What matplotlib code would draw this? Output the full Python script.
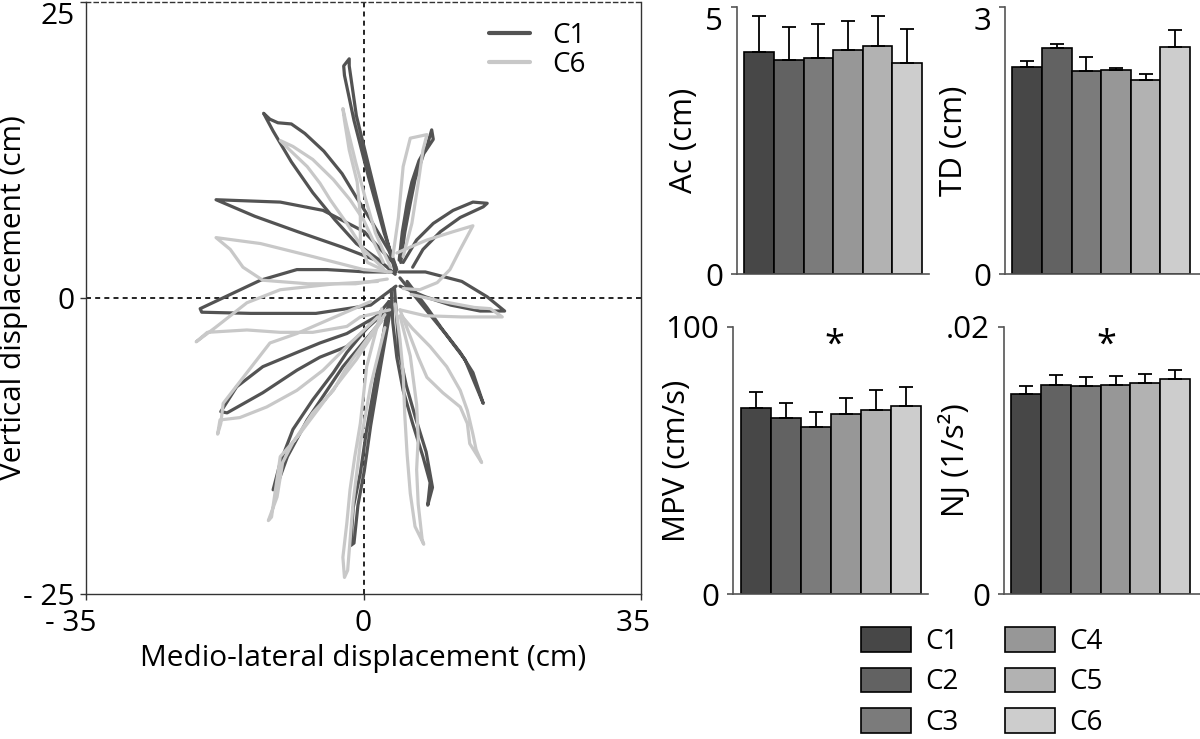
import matplotlib
matplotlib.use("Agg")
import matplotlib.pyplot as plt

plt.rcParams['font.family'] = ['Open Sans', 'DejaVu Sans']
plt.rcParams['font.size'] = 21.5

# ---------------- data ----------------
conditions = ["C1", "C2", "C3", "C4", "C5", "C6"]
bar_colors = ["#474747", "#626262", "#7b7b7b", "#979797", "#b2b2b2", "#cdcdcd"]

ac_mean = [4.16, 4.01, 4.05, 4.19, 4.27, 3.95]
ac_err = [0.67, 0.62, 0.63, 0.54, 0.57, 0.64]
td_mean = [2.33, 2.54, 2.28, 2.29, 2.18, 2.55]
td_err = [0.06, 0.04, 0.16, 0.03, 0.07, 0.19]
mpv_mean = [69.6, 66.0, 62.6, 67.5, 69.0, 70.25]
mpv_err = [6.15, 5.5, 5.65, 5.9, 7.5, 7.25]
nj_mean = [0.01495, 0.01565, 0.01555, 0.01565, 0.01578, 0.01613]
nj_err = [0.00063, 0.00073, 0.00070, 0.00070, 0.00070, 0.00062]

traj_xticks = [-35, 0, 35]
traj_xticklabels = ["- 35    ", "0", "35  "]
traj_yticks = [-25, 0, 25]
traj_yticklabels = ["- 25", "0", "25"]

# hand trajectories (cm), one closed loop per target, condition C1
c1_paths = [
    [(4.0, 2.2), (3.7, 3.0), (2.7, 5.6), (0.9, 10.5), (-0.9, 15.4), (-1.8, 19.6), (-1.8, 20.2),
     (-2.5, 19.6), (-2.4, 18.8), (-1.2, 15.0), (0.6, 10.3), (2.6, 5.5), (4.1, 2.6)],
    [(4.0, 2.0), (1.8, 3.3), (-0.9, 4.6), (-3.6, 6.6), (-6.4, 8.9), (-9.1, 11.5), (-11.4, 14.1),
     (-12.6, 15.6), (-11.8, 15.1), (-10.8, 14.8), (-9.1, 14.7), (-7.4, 13.9), (-5.0, 12.4),
     (-2.7, 10.5), (-0.9, 8.5), (0.9, 6.6), (3.2, 4.0), (4.2, 2.4)],
    [(3.7, 3.0), (0.1, 5.6), (-5.1, 7.4), (-10.5, 8.1), (-18.6, 8.3), (-13.7, 6.9), (-8.3, 5.6),
     (-2.7, 4.3), (2.3, 3.0)],
    [(4.1, 2.2), (0.4, 2.2), (-4.6, 2.4), (-8.4, 2.4), (-13.0, 1.5), (-20.6, -0.9), (-20.4, -1.2),
     (-14.2, -1.3), (-6.0, -1.3), (0.9, -0.6), (4.1, 1.0)],
    [(2.3, -1.3), (-2.1, -3.0), (-5.5, -3.8), (-8.4, -4.6), (-12.7, -5.8), (-16.0, -7.5),
     (-18.0, -9.6), (-17.2, -9.7), (-12.7, -8.0), (-8.4, -6.1), (-5.5, -5.0), (-2.1, -4.1), (3.0, -1.0)],
    [(3.2, -0.3), (-2.1, -4.6), (-3.8, -6.3), (-6.4, -8.6), (-8.9, -11.1), (-10.5, -13.9),
     (-11.4, -16.2), (-11.0, -16.0), (-9.6, -13.4), (-7.1, -10.3), (-4.6, -7.8), (-2.6, -5.8), (2.3, -1.9)],
    [(3.2, -0.3), (1.8, -5.8), (0.4, -11.1), (-0.4, -14.8), (-1.3, -17.7), (-1.6, -20.9),
     (-1.2, -20.7), (-0.7, -17.5), (0.1, -14.6), (0.9, -10.8), (2.2, -5.6), (3.6, -0.2)],
    [(3.5, 0.7), (3.7, -2.1), (4.2, -5.0), (5.0, -7.8), (6.2, -10.6), (7.5, -13.4), (8.4, -15.6),
     (8.1, -17.5), (8.7, -16.0), (7.9, -13.0), (6.6, -10.2), (5.4, -7.4), (4.5, -4.6), (3.9, 0.9)],
    [(5.5, 1.4), (8.0, -0.8), (10.0, -2.7), (12.2, -4.6), (13.8, -6.3), (15.1, -8.9), (12.8, -5.2),
     (10.2, -2.9), (7.4, -0.6), (4.6, 1.7)],
    [(4.5, 2.2), (7.8, 2.2), (12.4, 1.4), (15.6, 0.1), (17.8, -1.1), (14.7, -1.1), (11.0, -0.6),
     (7.8, 0.1), (4.6, 1.0)],
    [(5.0, 3.0), (6.7, 4.9), (8.8, 6.3), (11.3, 7.4), (13.8, 8.1), (15.6, 8.0), (15.1, 7.7),
     (12.2, 6.8), (9.7, 5.6), (7.5, 4.1), (6.2, 2.6)],
    [(4.5, 3.2), (4.9, 5.6), (5.5, 8.0), (6.1, 9.8), (7.0, 11.6), (8.0, 12.8), (8.6, 14.2),
     (8.8, 13.4), (7.6, 12.2), (6.5, 10.0), (5.9, 8.0), (5.2, 5.5), (4.7, 3.0)],
]

# hand trajectories (cm), condition C6
c6_paths = [
    [(3.4, 2.6), (1.5, 5.5), (0.2, 8.5), (-1.0, 11.5), (-2.1, 14.5), (-2.6, 16.0), (-2.4, 15.0),
     (-1.8, 12.5), (-0.8, 9.8), (-0.4, 7.0), (-0.4, 4.5), (0.5, 3.0), (3.0, 2.2)],
    [(2.5, 3.0), (0.0, 6.6), (-1.7, 8.3), (-3.8, 10.0), (-6.4, 11.7), (-8.9, 12.8), (-10.5, 13.3),
     (-9.3, 12.5), (-7.1, 11.1), (-5.5, 9.7), (-4.2, 8.3), (-2.1, 6.3), (0.0, 4.1), (2.5, 2.5)],
    [(3.5, 2.2), (0.0, 2.4), (-6.4, 3.5), (-13.0, 4.6), (-18.6, 5.1), (-16.8, 4.1), (-15.2, 2.6),
     (-12.7, 1.5), (-7.0, 1.2), (-1.0, 1.2), (3.0, 1.6)],
    [(1.8, 1.4), (-3.6, 1.2), (-10.5, 0.7), (-14.7, -0.4), (-18.7, -2.5), (-21.1, -3.7),
     (-19.7, -2.9), (-14.7, -2.7), (-10.5, -2.9), (-6.4, -2.9), (-2.1, -2.4), (-0.4, -1.6), (3.3, -1.0)],
    [(1.8, -1.6), (-2.1, -4.1), (-5.1, -6.1), (-8.4, -7.8), (-12.2, -9.2), (-15.6, -10.1),
     (-18.1, -10.3), (-18.4, -11.5), (-18.0, -10.6), (-17.7, -8.9), (-14.7, -6.3), (-11.8, -3.8),
     (-8.4, -3.0), (-3.6, -1.6), (0.9, -0.3)],
    [(2.7, -1.4), (-2.1, -5.8), (-3.8, -7.8), (-6.4, -9.7), (-8.9, -12.2), (-10.2, -13.9),
     (-10.9, -16.8), (-12.0, -18.8), (-11.6, -18.5), (-10.5, -13.4), (-8.3, -11.7), (-4.6, -8.4),
     (-0.9, -5.2), (2.3, -1.9)],
    [(2.3, -0.9), (0.4, -5.8), (-0.4, -10.6), (-1.1, -13.4), (-1.7, -16.2), (-2.1, -19.0),
     (-2.6, -21.9), (-2.4, -23.6), (-2.0, -23.0), (-1.3, -17.2), (-0.4, -12.3), (0.9, -7.4), (2.7, -2.5)],
    [(4.0, -0.5), (4.6, -3.5), (5.0, -6.3), (5.2, -9.8), (5.5, -13.2), (5.9, -16.5), (6.5, -19.3),
     (7.6, -20.8), (7.4, -20.4), (6.9, -17.4), (6.7, -14.5), (6.9, -11.8), (6.7, -9.0), (5.9, -4.9),
     (4.6, -1.5)],
    [(4.6, -1.0), (6.9, -5.0), (8.0, -6.7), (10.0, -8.0), (12.2, -9.2), (13.1, -10.6), (13.4, -12.3),
     (14.9, -13.9), (14.2, -12.8), (13.8, -11.5), (13.1, -9.5), (12.2, -7.8), (10.5, -5.8),
     (8.4, -4.1), (6.2, -2.6), (4.8, -1.5)],
    [(4.6, -1.0), (7.8, -1.5), (12.4, -1.6), (17.5, -1.6), (16.0, -0.9), (14.0, -0.8), (10.0, -0.3),
     (6.0, 0.3)],
    [(4.2, 3.8), (5.9, 4.3), (8.0, 4.9), (11.3, 5.6), (13.8, 6.1), (12.2, 4.1), (10.9, 2.4),
     (9.3, 1.3), (7.1, 0.7), (5.0, 0.8)],
    [(3.7, 3.5), (4.4, 6.8), (5.0, 11.1), (5.9, 13.5), (8.0, 13.8), (7.5, 12.5), (6.9, 9.7),
     (6.1, 6.3), (5.0, 3.5)],
]

traj_colors = {"C1": "#535353", "C6": "#c8c8c8"}

# ---------------- figure ----------------
W, H = 1200, 739
fig = plt.figure(figsize=(W / 100, H / 100), dpi=100)


def rect(x0, y0, x1, y1):
    return [x0 / W, 1 - y1 / H, (x1 - x0) / W, (y1 - y0) / H]


# trajectory panel
ax = fig.add_axes(rect(86, 2, 641, 594))
for i, p in enumerate(c1_paths):
    xs, ys = zip(*p)
    ax.plot(xs, ys, color=traj_colors["C1"], lw=2.3, solid_joinstyle='round',
            solid_capstyle='round', label="C1" if i == 0 else None, zorder=2)
for i, p in enumerate(c6_paths):
    xs, ys = zip(*p)
    ax.plot(xs, ys, color=traj_colors["C6"], lw=2.3, solid_joinstyle='round',
            solid_capstyle='round', label="C6" if i == 0 else None, zorder=3)
ax.axhline(0, color='black', lw=1.2, ls=(0, (3, 2.5)), zorder=1)
ax.axvline(0, color='black', lw=1.2, ls=(0, (3, 2.5)), zorder=1)
ax.set_xlim(-35, 35)
ax.set_ylim(-25, 25)
ax.set_xticks(traj_xticks)
ax.set_xticklabels(traj_xticklabels)
ax.set_yticks(traj_yticks)
ax.set_yticklabels(traj_yticklabels)
ax.get_yticklabels()[-1].set_verticalalignment('top')
ax.tick_params(length=4, width=1, color='#333333', pad=4)
ax.tick_params(axis='x', pad=7)
for s in ax.spines.values():
    s.set_color('#333333')
    s.set_linewidth(1.0)
ax.spines['top'].set_linestyle((0, (3, 2.5)))
ax.set_xlabel("Medio-lateral displacement (cm)")
ax.set_ylabel("Vertical displacement (cm)")
ax.xaxis.set_label_coords(0.5, -0.085)
ax.yaxis.set_label_coords(-0.105, 0.5)
leg = ax.legend(loc='upper right', bbox_to_anchor=(0.925, 0.99), frameon=False,
                handlelength=1.45, handletextpad=0.8, labelspacing=0.05, borderpad=0,
                fontsize=20)
for ln in leg.get_lines():
    ln.set_linewidth(3)

# bar panels
x = list(range(len(conditions)))
panels = [
    (rect(737, 7, 929, 274), ac_mean, ac_err, 5, ["0", "5"], "Ac (cm)", -0.2, False, 5.74),
    (rect(1005, 7, 1200, 274), td_mean, td_err, 3, ["0", "3"], "TD (cm)", -0.185, False, 5.84),
    (rect(733, 327, 928, 594), mpv_mean, mpv_err, 100, ["0", "100"], "MPV (cm/s)", -0.21, True, 5.74),
    (rect(1004, 327, 1200, 594), nj_mean, nj_err, 0.02, ["0", ".02"], "NJ (1/s²)", -0.17, True, 5.84),
]
bars_for_legend = None
for (pos, mean, err, top, tl, lab, lx, star, right) in panels:
    bx = fig.add_axes(pos)
    b = bx.bar(x, mean, width=1.0, color=bar_colors, edgecolor='black', linewidth=1.2,
               yerr=[[0] * len(mean), err], capsize=5,
               error_kw=dict(elinewidth=1.3, capthick=1.3, ecolor='black'), zorder=2)
    if bars_for_legend is None:
        bars_for_legend = b
    bx.set_xlim(-0.75, right)
    bx.set_ylim(0, top)
    bx.set_yticks([0, top])
    bx.set_yticklabels(tl, fontsize=22.5)
    if not star:
        bx.get_yticklabels()[-1].set_verticalalignment('top')
    bx.set_xticks([])
    for s in ['top', 'right']:
        bx.spines[s].set_visible(False)
    for s in ['left', 'bottom']:
        bx.spines[s].set_color('#555555')
        bx.spines[s].set_linewidth(1.2)
    bx.tick_params(axis='y', length=4, width=1.2, color='#555555', pad=6)
    bx.set_ylabel(lab, fontsize=22.5)
    bx.yaxis.set_label_coords(lx, 0.5)
    if star:
        bx.text(0.52, 0.93, "*", transform=bx.transAxes, ha='center', va='center', fontsize=26)

fig.legend(bars_for_legend, conditions, ncol=2, loc='upper left',
           bbox_to_anchor=(847 / W, 1 - 613 / H), frameon=False, borderpad=0, fontsize=20,
           handlelength=1.8, handleheight=1.0, handletextpad=0.5, columnspacing=1.7,
           labelspacing=0.42)

fig.savefig("out.png", dpi=100)
